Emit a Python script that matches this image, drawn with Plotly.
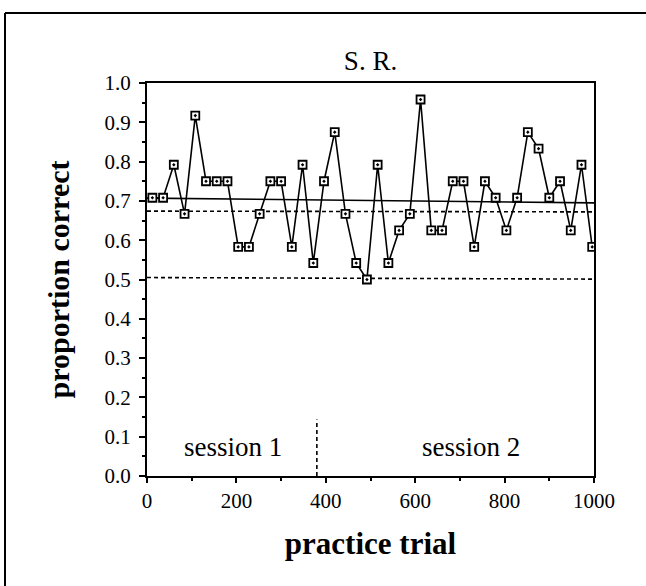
import plotly.graph_objects as go

# Proportion correct per 24-trial block (block midpoints on the x axis)
trial = [12, 36, 60, 84, 108, 132, 156, 180, 204, 228, 252, 276, 300, 324, 348, 372,
         396, 420, 444, 468, 492, 516, 540, 564, 588, 612, 636, 660, 684, 708, 732, 756,
         780, 804, 828, 852, 876, 900, 924, 948, 972, 996]
prop_correct = [0.708, 0.708, 0.792, 0.667, 0.917, 0.750, 0.750, 0.750, 0.583, 0.583,
                0.667, 0.750, 0.750, 0.583, 0.792, 0.542, 0.750, 0.875, 0.667, 0.542,
                0.500, 0.792, 0.542, 0.625, 0.667, 0.958, 0.625, 0.625, 0.750, 0.750,
                0.583, 0.750, 0.708, 0.625, 0.708, 0.875, 0.833, 0.708, 0.750, 0.625,
                0.792, 0.583]

# Linear fit across all trials (endpoints)
fit_x = [0, 1000]
fit_y = [0.707, 0.695]

# Reference levels
upper_ref_y = [0.674, 0.672]
chance_ref_y = [0.505, 0.501]

# Session boundary
session_break = 380
session_break_top = 0.144
session_labels = ["session 1", "session 2"]
session_label_x = [193, 724]
session_label_y = 0.074

x_ticks = [0, 200, 400, 600, 800, 1000]
y_ticks = [0.0, 0.1, 0.2, 0.3, 0.4, 0.5, 0.6, 0.7, 0.8, 0.9, 1.0]

W, H = 646, 586
L, R, T, B = 147, 52, 83, 110
SERIF = "Liberation Serif, Times New Roman, serif"

fig = go.Figure()

fig.add_trace(go.Scatter(x=fit_x, y=fit_y, mode="lines",
                         line=dict(color="black", width=1.6), hoverinfo="skip"))
fig.add_trace(go.Scatter(x=fit_x, y=upper_ref_y, mode="lines",
                         line=dict(color="black", width=1.6, dash="4px,3px"), hoverinfo="skip"))
fig.add_trace(go.Scatter(x=fit_x, y=chance_ref_y, mode="lines",
                         line=dict(color="black", width=1.6, dash="4px,3px"), hoverinfo="skip"))
fig.add_trace(go.Scatter(x=[session_break, session_break], y=[0, session_break_top], mode="lines",
                         line=dict(color="black", width=1.6, dash="4px,3px"), hoverinfo="skip"))

fig.add_trace(go.Scatter(
    x=trial, y=prop_correct, mode="lines+markers",
    line=dict(color="black", width=1.6),
    marker=dict(symbol="square-dot", size=8, color="white",
                line=dict(color="black", width=1.8)),
))

for label, lx in zip(session_labels, session_label_x):
    fig.add_annotation(x=lx, y=session_label_y, text=label, showarrow=False,
                       font=dict(family=SERIF, size=27, color="black"))

# Outer frame (top and left edges)
def px_to_paper(px, py):
    return (px - L) / (W - L - R), (H - B - py) / (H - T - B)

x0, y0 = px_to_paper(5, 13)
x1, _ = px_to_paper(646, 13)
_, y1 = px_to_paper(5, 586)
fig.add_shape(type="line", xref="paper", yref="paper", x0=x0, y0=y0, x1=x1, y1=y0,
              line=dict(color="black", width=2))
fig.add_shape(type="line", xref="paper", yref="paper", x0=x0, y0=y0, x1=x0, y1=y1,
              line=dict(color="black", width=2))

fig.update_layout(
    width=W, height=H,
    margin=dict(l=L, r=R, t=T, b=B),
    paper_bgcolor="white", plot_bgcolor="white",
    showlegend=False,
    title=dict(text="S. R.", x=(L + (W - L - R) / 2) / W, xanchor="center",
               y=1 - 61 / H, yanchor="middle", yref="container",
               font=dict(family=SERIF, size=27, color="black")),
    font=dict(family=SERIF, color="black"),
)

fig.update_xaxes(
    range=[0, 1000], tickvals=x_ticks, ticktext=[str(v) for v in x_ticks],
    showgrid=False, zeroline=False,
    showline=True, linecolor="black", linewidth=2, mirror=True,
    ticks="outside", ticklen=5, tickwidth=1.5, tickcolor="black",
    minor=dict(dtick=100, ticks="outside", ticklen=3, tickwidth=1.5, tickcolor="black"),
    tickfont=dict(family=SERIF, size=21, color="black"),
    title=dict(text="<b>practice trial</b>", font=dict(family=SERIF, size=31, color="black"),
               standoff=20),
)

fig.update_yaxes(
    range=[0, 1], tickvals=y_ticks, ticktext=[f"{v:.1f}" for v in y_ticks],
    showgrid=False, zeroline=False,
    showline=True, linecolor="black", linewidth=2, mirror=True,
    ticks="outside", ticklen=6, tickwidth=1.5, tickcolor="black",
    minor=dict(dtick=0.05, ticks="outside", ticklen=3, tickwidth=1.5, tickcolor="black"),
    tickfont=dict(family=SERIF, size=21, color="black"),
    ticklabelstandoff=4,
    title=dict(text="<b>proportion correct</b>", font=dict(family=SERIF, size=30, color="black"),
               standoff=26),
)

fig.write_html("out.html")
